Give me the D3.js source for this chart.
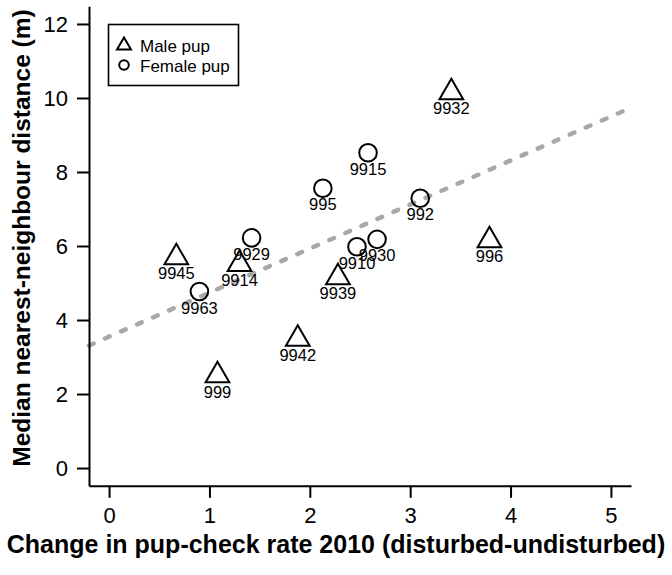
<!DOCTYPE html>
<html>
<head>
<meta charset="utf-8">
<script src="https://cdn.jsdelivr.net/npm/d3@7"></script>
<style>
  html, body { margin: 0; padding: 0; background: #fff; }
  svg { display: block; }
  text { font-family: "Liberation Sans", Arial, Helvetica, sans-serif; fill: #000; }
</style>
</head>
<body>
<svg id="chart" width="672" height="575"></svg>
<script>
// ---- data ----
const ids   = ["9932","9915","995","992","996","9929","9910","9930","9945","9914","9939","9963","9942","999"];
const sexes = ["M","F","F","F","M","F","F","F","M","M","M","F","M","M"];
const xVals = [3.41, 2.58, 2.13, 3.10, 3.79, 1.42, 2.47, 2.67, 0.67, 1.30, 2.28, 0.90, 1.88, 1.08];
const yVals = [10.15, 8.52, 7.56, 7.29, 6.15, 6.22, 5.98, 6.18, 5.69, 5.51, 5.15, 4.77, 3.49, 2.50];
const xTicks = [0, 1, 2, 3, 4, 5];
const yTicks = [0, 2, 4, 6, 8, 10, 12];
const fitIntercept = 3.55;
const fitSlope = 1.19;
const legendLabels = ["Male pup", "Female pup"];
const legendSexes = ["M", "F"];
const xTitle = "Change in pup-check rate 2010 (disturbed-undisturbed)";
const yTitle = "Median nearest-neighbour distance (m)";

// ---- layout ----
const svg = d3.select("#chart");
const x = d3.scaleLinear().domain([-0.2, 5.2]).range([89, 631]);
const y = d3.scaleLinear().domain([-0.48, 12.48]).range([485.8, 6.2]);

// triangle (R pch 2) path around centre with size s
function triPath(cx, cy, s) {
  const r = 1.5551 * s, xc = 1.3468 * s, yc = 0.7776 * s;
  return `M${cx},${cy - r}L${cx + xc},${cy + yc}L${cx - xc},${cy + yc}Z`;
}

// regression line (clipped to plot region)
svg.append("line")
  .attr("x1", x(-0.2)).attr("y1", y(fitIntercept + fitSlope * -0.2))
  .attr("x2", x(5.2)).attr("y2", y(fitIntercept + fitSlope * 5.2))
  .attr("stroke", "#a8a8a8").attr("stroke-width", 4.5)
  .attr("stroke-dasharray", "5 12.5").attr("stroke-linecap", "round");

// axes
const fmt = d3.format("d");
const ax = svg.append("g").attr("transform", `translate(0,${y.range()[0]})`)
  .call(d3.axisBottom(x).tickValues(xTicks).tickFormat(fmt).tickSize(12).tickSizeOuter(0).tickPadding(10));
const ay = svg.append("g").attr("transform", `translate(${x.range()[0]},0)`)
  .call(d3.axisLeft(y).tickValues(yTicks).tickFormat(fmt).tickSize(12).tickSizeOuter(0).tickPadding(9));
[ax, ay].forEach(g => {
  g.selectAll("path, line").attr("stroke", "#000").attr("stroke-width", 2);
  g.selectAll("text").attr("font-size", 22).attr("fill", "#000")
    .style("font-family", '"Liberation Sans", Arial, sans-serif');
});

// points
const data = ids.map((id, i) => ({ id, sex: sexes[i], x: xVals[i], y: yVals[i] }));
const s = 8.8;
const pts = svg.append("g");
data.forEach(d => {
  const cx = x(d.x), cy = y(d.y);
  if (d.sex === "M") {
    pts.append("path").attr("d", triPath(cx, cy, s))
      .attr("fill", "none").attr("stroke", "#000").attr("stroke-width", 2);
  } else {
    pts.append("circle").attr("cx", cx).attr("cy", cy).attr("r", s)
      .attr("fill", "none").attr("stroke", "#000").attr("stroke-width", 2);
  }
});
svg.append("g").selectAll("text").data(data).join("text")
  .attr("x", d => x(d.x)).attr("y", d => y(d.y) + 22)
  .attr("text-anchor", "middle").attr("font-size", 16.5)
  .text(d => d.id);

// legend
const lg = svg.append("g");
lg.append("rect").attr("x", 108.5).attr("y", 24.5).attr("width", 130).attr("height", 61)
  .attr("fill", "none").attr("stroke", "#000").attr("stroke-width", 1.6);
legendLabels.forEach((lab, i) => {
  const cy = 45.5 + i * 20;
  if (legendSexes[i] === "M") {
    lg.append("path").attr("d", triPath(124, cy, 5.2))
      .attr("fill", "none").attr("stroke", "#000").attr("stroke-width", 2);
  } else {
    lg.append("circle").attr("cx", 124).attr("cy", cy - 0.5).attr("r", 4.8)
      .attr("fill", "none").attr("stroke", "#000").attr("stroke-width", 2);
  }
  lg.append("text").attr("x", 140).attr("y", cy + 6.2).attr("font-size", 17).text(lab);
});

// axis titles
svg.append("text").attr("x", 336).attr("y", 553).attr("text-anchor", "middle")
  .attr("font-size", 25).attr("font-weight", "bold").text(xTitle);
svg.append("text").attr("transform", "translate(30,238) rotate(-90)")
  .attr("text-anchor", "middle").attr("font-size", 24.5).attr("font-weight", "bold").text(yTitle);
</script>
</body>
</html>
